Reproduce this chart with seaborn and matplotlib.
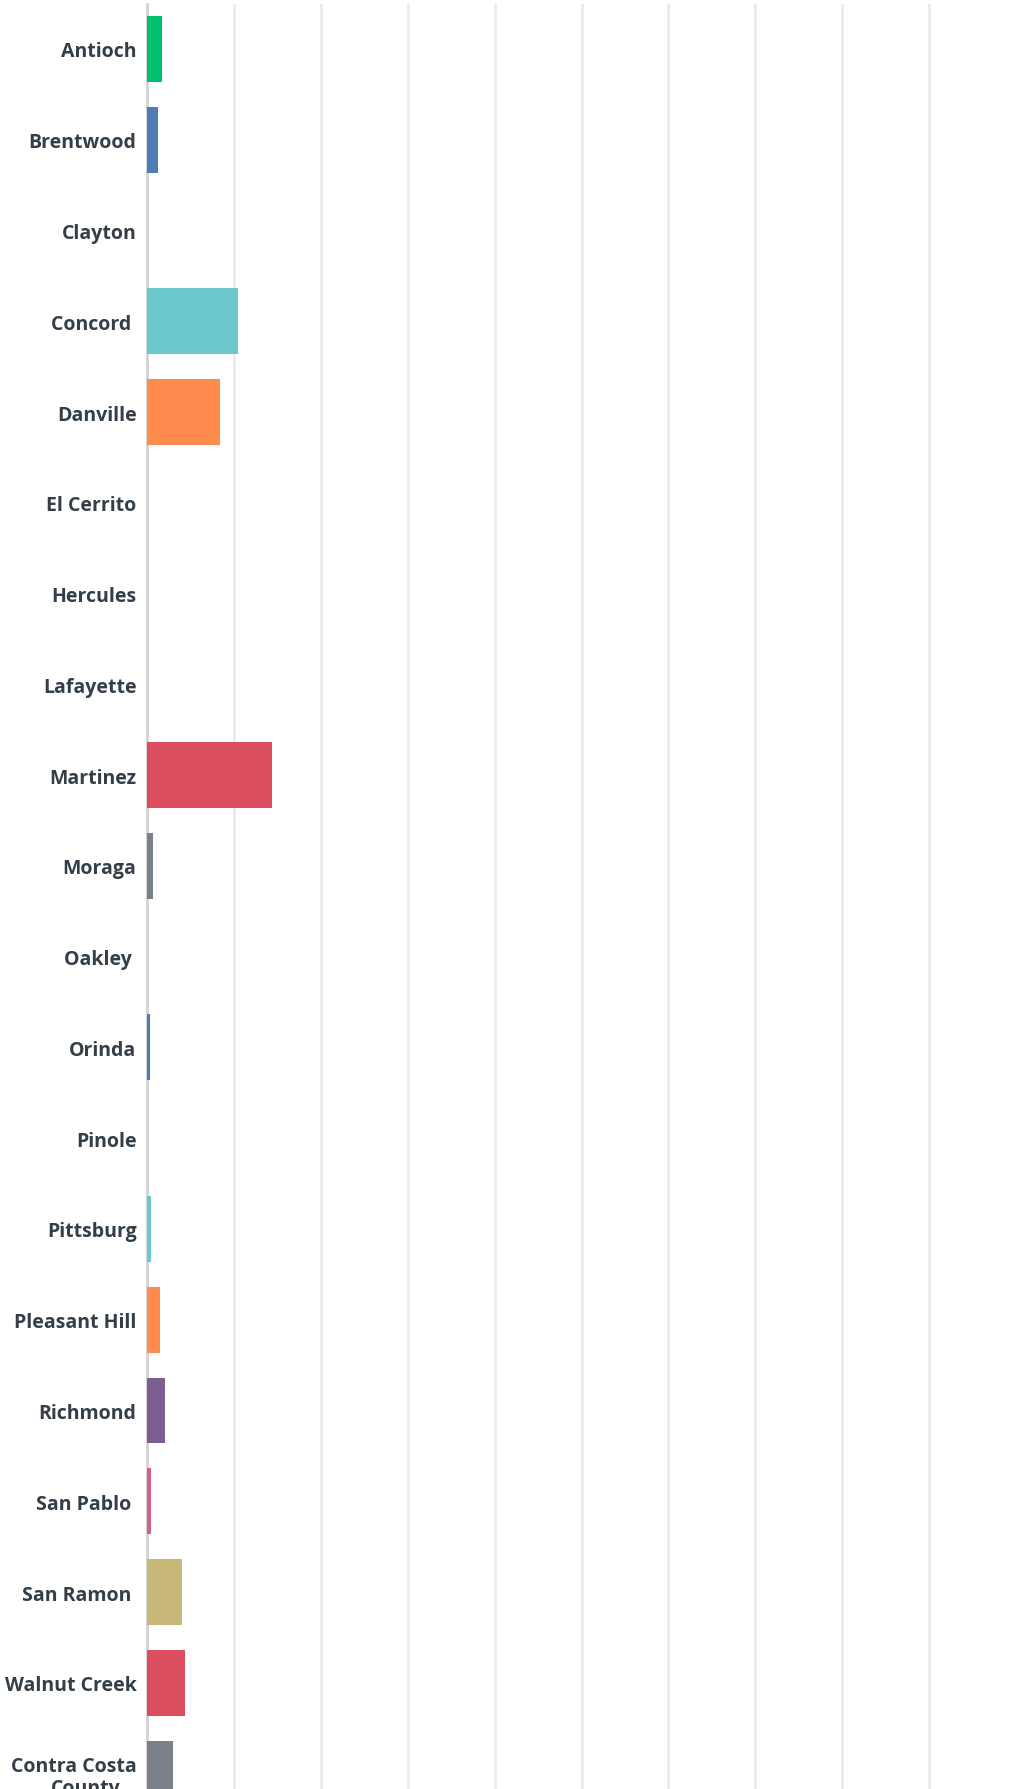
import matplotlib
matplotlib.use("Agg")
import matplotlib.pyplot as plt
import seaborn as sns

# city labels (some carry a trailing space like the source)
cities = ["Antioch", "Brentwood", "Clayton", "Concord ", "Danville", "El Cerrito",
          "Hercules", "Lafayette", "Martinez", "Moraga", "Oakley ", "Orinda",
          "Pinole", "Pittsburg", "Pleasant Hill", "Richmond", "San Pablo ",
          "San Ramon ", "Walnut Creek", "Contra Costa\nCounty..."]
# percent of responses
pct = [1.76, 1.3, 0, 10.5, 8.44, 0, 0, 0, 14.4, 0.73, 0, 0.3, 0, 0.5, 1.53,
       2.1, 0.5, 4.07, 4.4, 3.03]
colors = ["#00bf6f", "#507cb6", "#f9be00", "#6bc8cd", "#ff8b4f", "#7d5e90",
          "#d25f90", "#c7b879", "#dc4e5f", "#7b8189"] * 2

sns.set_style("white")
plt.rcParams["font.family"] = ["Open Sans", "DejaVu Sans"]

fig = plt.figure(figsize=(10.09, 17.90), dpi=100)
ax = fig.add_axes([147 / 1009, 0, 1 - 147 / 1009, 1 - 4.6 / 1790])

sns.barplot(x=pct, y=cities, hue=cities, palette=colors, orient="h",
            width=0.727, legend=False, saturation=1, linewidth=0, ax=ax)
for p in ax.patches:
    p.set_zorder(3)
    p.set_linewidth(0)

ax.set_xlim(0, (1009 - 147) / 86.9 * 10)
ax.set_ylim(19.17, -0.5)
ax.set_xticks(range(10, 100, 10))
ax.xaxis.grid(True, color="#ebebeb", lw=2)
ax.set_axisbelow(True)
ax.tick_params(axis="x", length=0, labelbottom=False)
ax.tick_params(axis="y", length=0, pad=7.5, labelsize=14, labelcolor="#333e48")
for t in ax.get_yticklabels():
    t.set_fontweight("bold")
    t.set_linespacing(1.1)
for s in ["top", "right", "bottom"]:
    ax.spines[s].set_visible(False)
ax.spines["left"].set_color("#d3d3d3")
ax.spines["left"].set_linewidth(2)
ax.set_xlabel("")
ax.set_ylabel("")

fig.savefig("out.png", dpi=100)
